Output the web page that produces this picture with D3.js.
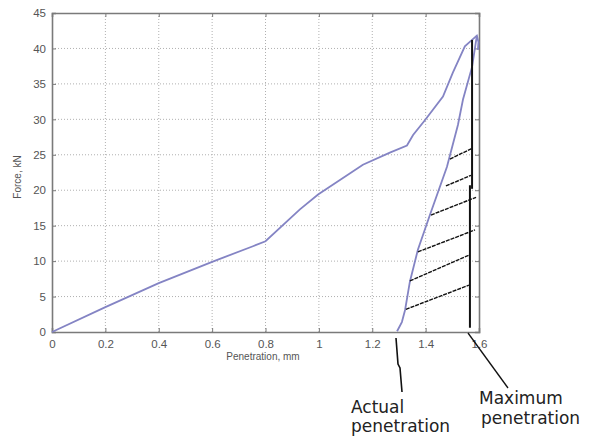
<!DOCTYPE html>
<html>
<head>
<meta charset="utf-8">
<script src="https://cdn.jsdelivr.net/npm/d3@7"></script>
<style>
  body { margin: 0; background: #fff; }
  svg { display: block; }
</style>
</head>
<body>
<svg id="chart" width="590" height="443"></svg>
<script>
// loading curve (penetration mm, force kN)
var loadX = [0, 0.2, 0.4, 0.6, 0.753, 0.8, 0.929, 0.997, 1.165, 1.266, 1.330, 1.353, 1.398, 1.465, 1.502, 1.547, 1.574, 1.592, 1.598, 1.596];
var loadY = [0, 3.5, 6.9, 9.9, 12.1, 12.8, 17.3, 19.4, 23.6, 25.3, 26.3, 27.8, 29.9, 33.2, 36.6, 40.3, 41.2, 41.8, 40.9, 39.8];
// unloading curve
var unloadX = [1.592, 1.574, 1.540, 1.521, 1.480, 1.416, 1.371, 1.341, 1.323, 1.311, 1.293];
var unloadY = [41.8, 37.4, 32.8, 29.2, 23.3, 16.5, 11.6, 7.1, 3.1, 1.4, 0.1];
// hatch lines [x1, y1, x2, y2]
var hatches = [
  [1.491, 24.4, 1.574, 25.9],
  [1.476, 20.6, 1.570, 22.1],
  [1.420, 16.5, 1.589, 19.0],
  [1.371, 11.3, 1.585, 14.4],
  [1.341, 7.2, 1.566, 10.9],
  [1.326, 3.2, 1.562, 6.6]
];
// max penetration vertical line segments
var maxLine = [[1.574, 41.2, 1.574, 20.2], [1.566, 20.7, 1.566, 0.6]];
var xTicks = [0, 0.2, 0.4, 0.6, 0.8, 1, 1.2, 1.4, 1.6];
var yTicks = [0, 5, 10, 15, 20, 25, 30, 35, 40, 45];

var svg = d3.select("#chart");
var x = d3.scaleLinear().domain([0, 1.6]).range([52, 479]);
var y = d3.scaleLinear().domain([0, 45]).range([332, 13]);

// grid
var grid = svg.append("g");
grid.selectAll(".gx").data(xTicks.slice(1, -1)).enter().append("line")
  .attr("x1", d => x(d)).attr("x2", d => x(d))
  .attr("y1", y(0)).attr("y2", y(45))
  .attr("stroke", "#b0b0b0").attr("stroke-width", 1)
  .attr("stroke-dasharray", "1,2");
grid.selectAll(".gy").data(yTicks.slice(1, -1)).enter().append("line")
  .attr("y1", d => y(d)).attr("y2", d => y(d))
  .attr("x1", x(0)).attr("x2", x(1.6))
  .attr("stroke", "#b0b0b0").attr("stroke-width", 1)
  .attr("stroke-dasharray", "1,2");

// axes (matlab style, ticks inward, on all sides)
var axCol = "#7a7a7a";
var xAxis = d3.axisBottom(x).tickValues(xTicks).tickSize(-4).tickPadding(8).tickFormat(d3.format("~g"));
var yAxis = d3.axisLeft(y).tickValues(yTicks).tickSize(-4).tickPadding(6);
var gx = svg.append("g").attr("transform", "translate(0," + y(0) + ")").call(xAxis);
var gy = svg.append("g").attr("transform", "translate(" + x(0) + ",0)").call(yAxis);
var gxt = svg.append("g").attr("transform", "translate(0," + y(45) + ")")
  .call(d3.axisTop(x).tickValues(xTicks).tickSize(-4).tickFormat(""));
var gyr = svg.append("g").attr("transform", "translate(" + x(1.6) + ",0)")
  .call(d3.axisRight(y).tickValues(yTicks).tickSize(-4).tickFormat(""));
[gx, gy, gxt, gyr].forEach(function(g) {
  g.select(".domain").attr("stroke", axCol).attr("stroke-width", 1.6);
  g.selectAll(".tick line").attr("stroke", axCol);
  g.selectAll("text").attr("fill", "#555").style("font-family", "Liberation Sans, Arial, sans-serif").style("font-size", "11.5px");
});

// axis labels
svg.append("text").attr("x", 263).attr("y", 360).attr("text-anchor", "middle")
  .attr("fill", "#555").style("font-family", "Liberation Sans, Arial, sans-serif").style("font-size", "10px")
  .text("Penetration, mm");
svg.append("text").attr("transform", "translate(21,177) rotate(-90)").attr("text-anchor", "middle")
  .attr("fill", "#555").style("font-family", "Liberation Sans, Arial, sans-serif").style("font-size", "10px")
  .text("Force, kN");

// curves
var line = d3.line().x(d => x(d[0])).y(d => y(d[1]));
var curveCol = "#8484c4";
svg.append("path").datum(loadX.map((v, i) => [v, loadY[i]]))
  .attr("d", line).attr("fill", "none").attr("stroke", curveCol).attr("stroke-width", 1.8);
svg.append("path").datum(unloadX.map((v, i) => [v, unloadY[i]]))
  .attr("d", line).attr("fill", "none").attr("stroke", curveCol).attr("stroke-width", 1.8);

// hatch lines
svg.selectAll(".hatch").data(hatches).enter().append("line")
  .attr("x1", d => x(d[0])).attr("y1", d => y(d[1]))
  .attr("x2", d => x(d[2])).attr("y2", d => y(d[3]))
  .attr("stroke", "#111").attr("stroke-width", 1.4)
  .attr("stroke-dasharray", "4,1");
svg.selectAll(".maxl").data(maxLine).enter().append("line")
  .attr("x1", d => x(d[0])).attr("y1", d => y(d[1]))
  .attr("x2", d => x(d[2])).attr("y2", d => y(d[3]))
  .attr("stroke", "#111").attr("stroke-width", 2);

// annotation pointers
svg.append("polyline").attr("points", [[396, 338], [398, 364], [400, 368], [402, 392]].join(" "))
  .attr("fill", "none").attr("stroke", "#111").attr("stroke-width", 1.6);
svg.append("line").attr("x1", 468).attr("y1", 333).attr("x2", 508).attr("y2", 388)
  .attr("stroke", "#111").attr("stroke-width", 1.3);

var ann = svg.append("g").style("font-family", "DejaVu Sans, Verdana, sans-serif")
  .style("font-size", "17px").attr("fill", "#222");
ann.append("text").attr("x", 351).attr("y", 413).text("Actual");
ann.append("text").attr("x", 351).attr("y", 432).text("penetration");
ann.append("text").attr("x", 479).attr("y", 404).text("Maximum");
ann.append("text").attr("x", 481).attr("y", 424).text("penetration");
</script>
</body>
</html>
